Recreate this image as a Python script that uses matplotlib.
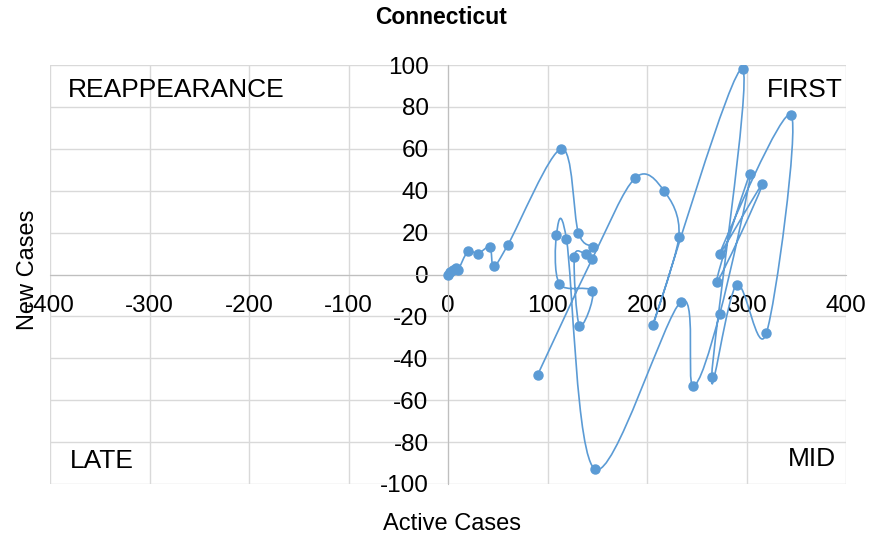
import matplotlib.pyplot as plt
from matplotlib.path import Path
from matplotlib.patches import PathPatch
import numpy as np

plt.rcParams['font.family'] = ['Liberation Sans', 'DejaVu Sans']
plt.rcParams['axes.unicode_minus'] = False

# Data (in drawing order)
active_cases = [0, 2, 5, 8, 10, 20, 30, 42, 46, 60, 114, 131, 146, 139, 127, 132, 145, 112,
                109, 119, 148, 234, 246, 273, 304, 270, 316, 273, 345, 320, 290, 265, 296,
                206, 232, 217, 188, 145, 90]
new_cases = [0, 1, 2, 3, 2, 11, 10, 13, 4, 14, 60, 20, 13, 10, 8.5, -24.5, -8, -4.5,
             19, 17, -93, -13, -53, -19, 48, -3.5, 43, 10, 76, -28, -5, -49, 98,
             -24, 18, 40, 46, 7.5, -48]

quadrant_labels = ["REAPPEARANCE", "FIRST", "LATE", "MID"]

blue = '#5B9BD5'

fig = plt.figure(figsize=(8.83, 5.4), dpi=100)
ax = fig.add_axes([50 / 883, 1 - 484 / 540, 796 / 883, 419 / 540])

# smoothed line like Excel (Catmull-Rom style Bezier)
pts = np.column_stack([active_cases, new_cases]).astype(float)
n = len(pts)
verts = [pts[0]]
codes = [Path.MOVETO]
for i in range(n - 1):
    p0 = pts[i - 1] if i > 0 else pts[i]
    p1 = pts[i]
    p2 = pts[i + 1]
    p3 = pts[i + 2] if i + 2 < n else pts[i + 1]
    c1 = p1 + (p2 - p0) / 6
    c2 = p2 - (p3 - p1) / 6
    verts += [c1, c2, p2]
    codes += [Path.CURVE4] * 3
ax.add_patch(PathPatch(Path(verts, codes), facecolor='none', edgecolor=blue, lw=1.2, zorder=3))
ax.plot(active_cases, new_cases, linestyle='none', marker='o', markersize=6.5,
        color=blue, zorder=4)

ax.set_xlim(-400, 400)
ax.set_ylim(-100, 100)
ax.set_xticks(range(-400, 401, 100))
ax.set_yticks(range(-100, 101, 20))
ax.grid(True, color='#d9d9d9', linewidth=1)
ax.set_axisbelow(True)

for side in ['top', 'right']:
    ax.spines[side].set_visible(False)
ax.spines['left'].set_position(('data', 0))
ax.spines['bottom'].set_position(('data', 0))
ax.spines['left'].set_color('#bfbfbf')
ax.spines['bottom'].set_color('#bfbfbf')
ax.tick_params(axis='both', length=0, labelsize=17.5, colors='black')
ax.tick_params(axis='x', pad=15)
ax.tick_params(axis='y', pad=14)

fig.text(441 / 883, 1 - 18 / 540, "Connecticut", ha='center', va='center',
         fontsize=16.5, fontweight='bold')
fig.text(452 / 883, 1 - 524 / 540, "Active Cases", ha='center', va='center', fontsize=17)
fig.text(28 / 883, 1 - 270 / 540, "New Cases", ha='center', va='center', fontsize=17, rotation=90)

ax.text(-382, 88, quadrant_labels[0], fontsize=19, va='center', ha='left')
ax.text(397, 88, quadrant_labels[1], fontsize=19, va='center', ha='right')
ax.text(-380, -89, quadrant_labels[2], fontsize=19, va='center', ha='left')
ax.text(390, -88, quadrant_labels[3], fontsize=19, va='center', ha='right')

plt.savefig('out.png', dpi=100)
